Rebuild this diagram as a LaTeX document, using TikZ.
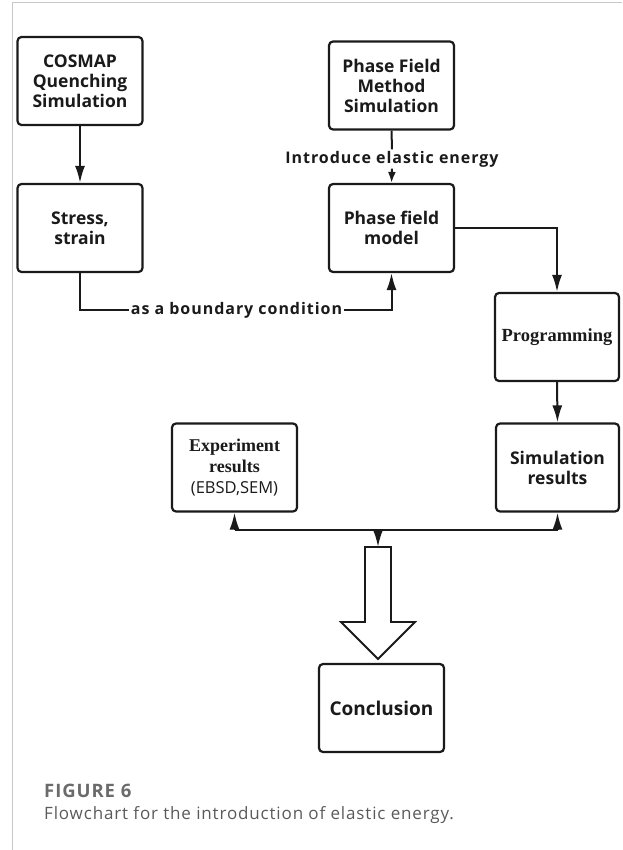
\documentclass[tikz,border=0pt]{standalone}
\usepackage{fontspec}
\setmainfont{Liberation Serif}
\setsansfont{Open Sans}
\newfontfamily\boxsans{Open Sans}
\newfontfamily\lblsans[LetterSpace=6]{Open Sans}
\newfontfamily\capsans[LetterSpace=5]{Open Sans}
\usetikzlibrary{arrows.meta}
\definecolor{ink}{HTML}{1A1A1A}
\definecolor{framegray}{HTML}{C8C8C8}
\definecolor{capgray}{HTML}{6B6B6B}
\definecolor{captext}{HTML}{5A5A5A}
\tikzset{
  flowbox/.style={draw=ink, line width=2.2pt, rounded corners=4pt, fill=white,
    minimum width=125pt, minimum height=88pt, inner sep=2pt, align=center,
    text=ink, font=\boxsans\bfseries\fontsize{17.5}{20}\selectfont},
  conn/.style={draw=ink, line width=2pt},
  arr/.style={conn, -{Latex[length=17pt,width=10pt]}},
  smallarr/.style={conn, -{Latex[length=11pt,width=8pt]}},
  lbl/.style={fill=white, inner sep=1.5pt, text=ink, font=\lblsans\bfseries\fontsize{16}{18}\selectfont},
}
\begin{document}
\begin{tikzpicture}[x=1pt,y=-1pt]
\useasboundingbox (0,0) rectangle (622,850);
% frame
\draw[framegray, line width=1pt] (12,850) -- (12,3) -- (622,3);

% boxes
\node[flowbox] (cosmap) at (80,81) {COSMAP\\Quenching\\Simulation};
\node[flowbox] (stress) at (80,228) {Stress,\\strain};
\node[flowbox] (pfms) at (391.5,85.5) {Phase Field\\Method\\Simulation};
\node[flowbox] (pfm) at (391.5,228) {Phase field\\model};
\node[flowbox, minimum width=124pt, font=\rmfamily\bfseries\fontsize{18.5}{21}\selectfont, inner sep=0pt] (prog) at (557,337) {Programming};
\node[flowbox, font=\rmfamily\bfseries\fontsize{18}{21}\selectfont] (exp) at (234.5,467.5) {Experiment\\results\\{\boxsans\mdseries\fontsize{16.5}{21}\selectfont (EBSD,SEM)}};
\node[flowbox, minimum width=123pt] (sim) at (557.5,467.5) {Simulation\\results};
\node[flowbox, font=\boxsans\bfseries\fontsize{19}{21}\selectfont] (concl) at (381.5,708) {Conclusion};

% labels on connectors
\node[lbl] (ie) at (392,159) {Introduce elastic energy};
\node[lbl] (bc) at (236.5,310) {as a boundary condition};

% connectors
\draw[arr] (cosmap) -- (stress);
\draw[conn] (pfms.south) -- (ie.north);
\draw[smallarr] (ie.south) -- (pfm.north);
\draw[conn] (stress.south) |- (bc.west);
\draw[arr] (bc.east) -| (pfm.south);
\draw[arr] (pfm.east) -| (prog.north);
\draw[arr] (prog.south) -- (sim.north);

% junction
\coordinate (jl) at (234.5,530);
\coordinate (jr) at (557.5,530);
\coordinate (jm) at (378,530);
\coordinate (batop) at (378,547);
\draw[conn] (jl) -- (jr);
\draw[arr] (jl) -- (exp.south);
\draw[arr] (jr) -- (sim.south);
\draw[arr] (jm) -- (batop);

% block arrow to conclusion
\draw[ink, line width=1.8pt, fill=white, line join=miter]
  (365,547) -- (391,547) -- (391,622) -- (415,622) -- (378,659) -- (341,622) -- (365,622) -- cycle;

% caption
\node[anchor=base west, inner sep=0pt, text=capgray, font=\capsans\bfseries\fontsize{18.5}{20}\selectfont] (figlabel) at (44,797) {FIGURE 6};
\node[anchor=base west, inner sep=0pt, text=captext, font=\capsans\fontsize{17}{19}\selectfont] (caption) at (44,819) {Flowchart for the introduction of elastic energy.};
\end{tikzpicture}
\end{document}
